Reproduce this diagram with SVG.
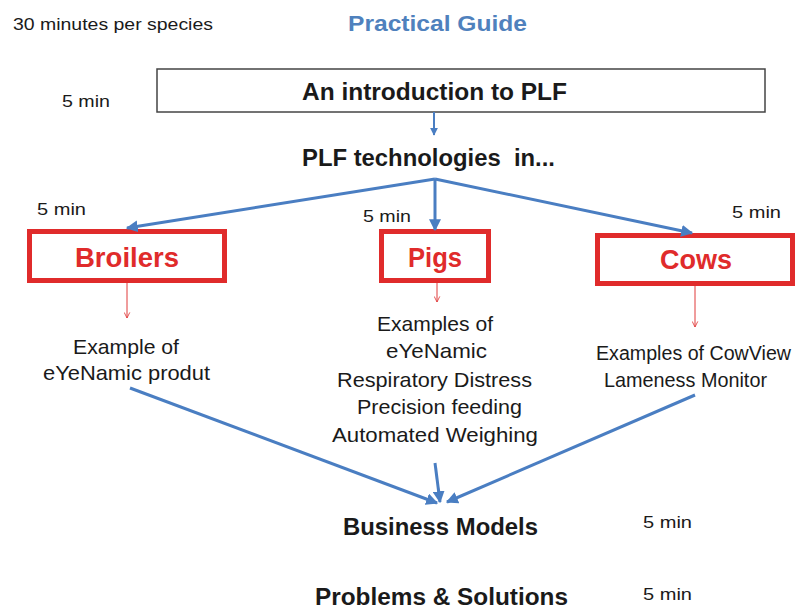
<svg xmlns="http://www.w3.org/2000/svg" width="802" height="611" viewBox="0 0 802 611">
<defs>
<style>
text{font-family:"Liberation Sans","Open Sans",sans-serif;fill:#1a1a1a}
.sm{font-size:16.5px}
.b{font-weight:bold;font-size:23.5px}
.sp{font-weight:bold;font-size:28px;fill:#e02b2b}
.d{font-size:21px}
.rb{fill:#fff;stroke:#e02b2b;stroke-width:5}
.bl{stroke:#4a7ec2;stroke-width:3;fill:none}
.rl{stroke:#e03a3a;stroke-width:1;fill:none}
</style>
<marker id="ab" viewBox="0 0 10 10" refX="9" refY="5" markerWidth="4" markerHeight="4" orient="auto"><path d="M0,0L10,5L0,10z" fill="#4a7ec2"/></marker>
<marker id="ar" viewBox="0 0 10 10" refX="9" refY="5" markerWidth="7" markerHeight="7" orient="auto"><path d="M1,1L9,5L1,9" fill="none" stroke="#e03a3a" stroke-width="1.2"/></marker>
</defs>
<rect width="802" height="611" fill="#fff"/>
<text class="sm" x="13" y="30" textLength="200" lengthAdjust="spacingAndGlyphs">30 minutes per species</text>
<text x="348" y="31" textLength="179" lengthAdjust="spacingAndGlyphs" style="font-weight:bold;font-size:22.5px;fill:#4f81bd">Practical Guide</text>
<g id="intro">
<rect x="157" y="69" width="608" height="43" fill="#fff" stroke="#444" stroke-width="1.5"/>
<text class="b" x="302" y="100" textLength="265" lengthAdjust="spacingAndGlyphs">An introduction to PLF</text>
<text class="sm" x="62" y="107" textLength="48" lengthAdjust="spacingAndGlyphs">5 min</text>
</g>
<g id="tech"><text class="b" x="302" y="166" textLength="253" lengthAdjust="spacingAndGlyphs" xml:space="preserve">PLF technologies  in...</text></g>
<g id="broilers">
<rect class="rb" x="29.5" y="231.5" width="195" height="49"/>
<text class="sp" x="75" y="267" textLength="104" lengthAdjust="spacingAndGlyphs">Broilers</text>
<text class="sm" x="37" y="215" textLength="49" lengthAdjust="spacingAndGlyphs">5 min</text>
</g>
<g id="pigs">
<rect class="rb" x="381.5" y="231.5" width="107" height="49"/>
<text class="sp" x="408" y="267" textLength="54" lengthAdjust="spacingAndGlyphs">Pigs</text>
<text class="sm" x="363" y="222" textLength="48" lengthAdjust="spacingAndGlyphs">5 min</text>
</g>
<g id="cows">
<rect class="rb" x="597.5" y="235.5" width="195" height="48"/>
<text class="sp" x="660" y="269" textLength="72" lengthAdjust="spacingAndGlyphs">Cows</text>
<text class="sm" x="732" y="218" textLength="49" lengthAdjust="spacingAndGlyphs">5 min</text>
</g>
<g id="broilers-ex">
<text class="d" x="73" y="354" textLength="106" lengthAdjust="spacingAndGlyphs">Example of</text>
<text class="d" x="43" y="380" textLength="167" lengthAdjust="spacingAndGlyphs">eYeNamic produt</text>
</g>
<g id="pigs-ex">
<text class="d" x="377" y="331" textLength="116" lengthAdjust="spacingAndGlyphs">Examples of</text>
<text class="d" x="386" y="358" textLength="101" lengthAdjust="spacingAndGlyphs">eYeNamic</text>
<text class="d" x="337" y="387" textLength="195" lengthAdjust="spacingAndGlyphs">Respiratory Distress</text>
<text class="d" x="357" y="414" textLength="165" lengthAdjust="spacingAndGlyphs">Precision feeding</text>
<text class="d" x="332" y="442" textLength="206" lengthAdjust="spacingAndGlyphs">Automated Weighing</text>
</g>
<g id="cows-ex">
<text x="596" y="360" textLength="195" lengthAdjust="spacingAndGlyphs" style="font-size:19.5px">Examples of CowView</text>
<text class="d" x="604" y="387" textLength="163" lengthAdjust="spacingAndGlyphs">Lameness Monitor</text>
</g>
<g id="business">
<text class="b" x="343" y="535" textLength="195" lengthAdjust="spacingAndGlyphs">Business Models</text>
<text class="sm" x="643" y="528" textLength="49" lengthAdjust="spacingAndGlyphs">5 min</text>
</g>
<g id="problems">
<text class="b" x="315" y="605" textLength="253" lengthAdjust="spacingAndGlyphs">Problems &amp; Solutions</text>
<text class="sm" x="643" y="600" textLength="49" lengthAdjust="spacingAndGlyphs">5 min</text>
</g>
<g id="connectors">
<line class="bl" x1="434" y1="112" x2="434" y2="135" marker-end="url(#ab)" style="stroke-width:2"/>
<line class="bl" x1="435" y1="179" x2="127" y2="228" marker-end="url(#ab)"/>
<line class="bl" x1="435" y1="179" x2="435" y2="230" marker-end="url(#ab)"/>
<line class="bl" x1="435" y1="179" x2="692" y2="233" marker-end="url(#ab)"/>
<line class="rl" x1="127" y1="283" x2="127" y2="318" marker-end="url(#ar)"/>
<line class="rl" x1="437" y1="283" x2="437" y2="302" marker-end="url(#ar)"/>
<line class="rl" x1="695" y1="286" x2="695" y2="327" marker-end="url(#ar)"/>
<line class="bl" x1="130" y1="388" x2="437" y2="503" marker-end="url(#ab)"/>
<line class="bl" x1="435" y1="463" x2="440" y2="502" marker-end="url(#ab)"/>
<line class="bl" x1="695" y1="395" x2="447" y2="502" marker-end="url(#ab)"/>
</g>
</svg>
